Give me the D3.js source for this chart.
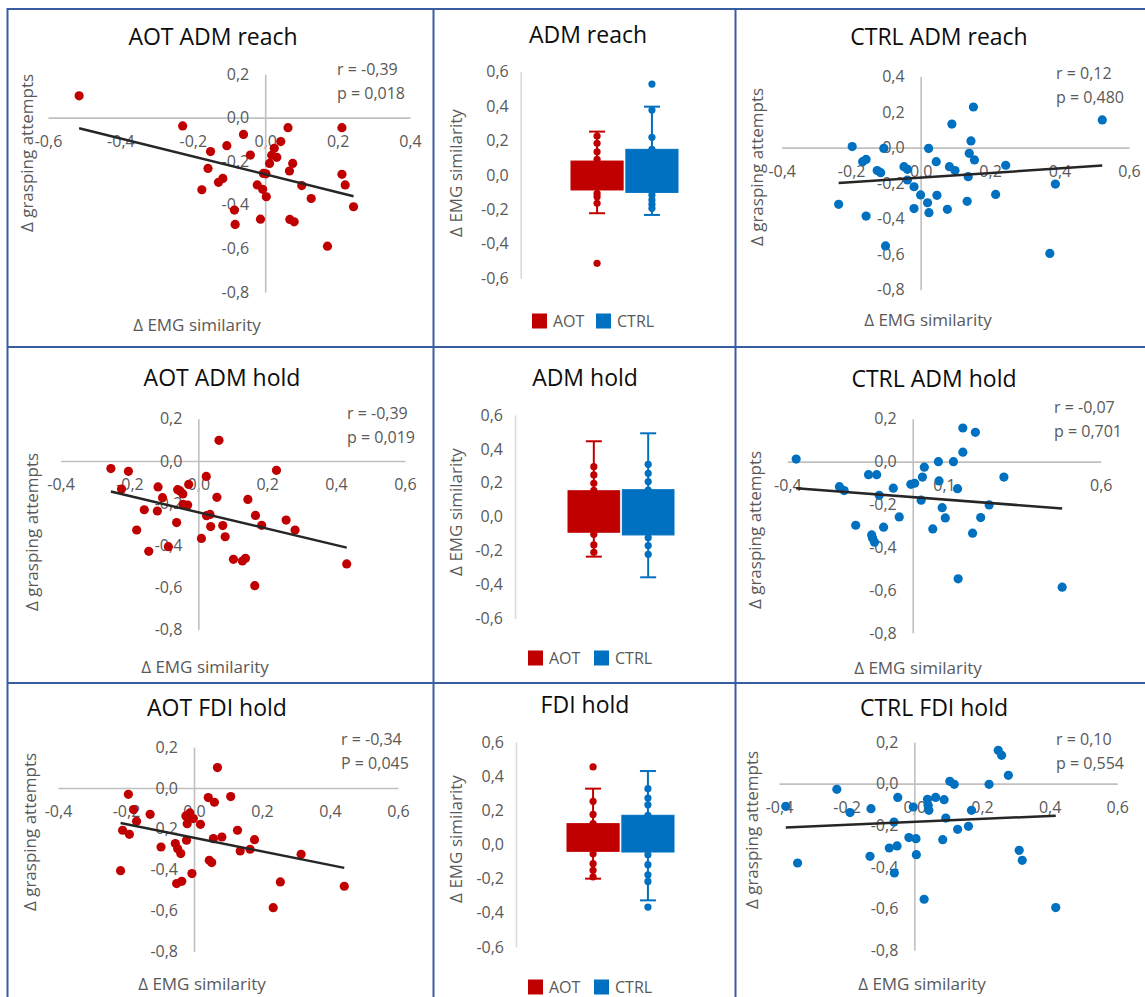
<!DOCTYPE html>
<html>
<meta charset="utf-8">
<style>
  body { margin: 0; background: #fff; }
  svg { display: block; font-family: "Open Sans", sans-serif; }
  .tick text { fill: #595959; font-size: 16px; }
  .axis-title { fill: #595959; font-size: 17px; }
  .title { fill: #0d0d0d; font-size: 23px; }
  .stat { fill: #595959; font-size: 16px; }
  .legend text { fill: #595959; font-size: 16px; }
</style>
<body>
<script src="https://d3js.org/d3.v7.min.js"></script>
<div id="chart"></div>
<script>
// ---- data ----
var groups = ["AOT", "CTRL"];

// scatter: [delta EMG similarity, delta grasping attempts]
var aotAdmReach = [[-0.514,0.10],[-0.228,-0.038],[-0.060,-0.077],[-0.151,-0.156],[-0.106,-0.129],[-0.158,-0.233],
  [-0.117,-0.279],[-0.129,-0.297],[-0.175,-0.331],[-0.041,-0.172],[-0.085,-0.424],[-0.083,-0.490],[-0.013,-0.466],
  [-0.022,-0.309],[-0.007,-0.329],[0.003,-0.363],[-0.005,-0.256],[0.002,-0.258],[0.012,-0.210],[0.018,-0.173],
  [0.032,-0.182],[0.025,-0.141],[0.043,-0.110],[0.063,-0.046],[0.076,-0.210],[0.067,-0.245],[0.068,-0.467],
  [0.080,-0.478],[0.101,-0.312],[0.127,-0.371],[0.212,-0.046],[0.212,-0.260],[0.221,-0.309],[0.244,-0.409],[0.172,-0.590]];
var ctrlAdmReach = [[-0.236,-0.319],[-0.197,0.006],[-0.167,-0.079],[-0.157,-0.066],[-0.125,-0.129],[-0.115,-0.141],
  [-0.157,-0.385],[-0.106,-0.004],[-0.101,-0.553],[-0.048,-0.107],[-0.038,-0.122],[-0.038,-0.182],[-0.019,-0.220],
  [-0.019,-0.343],[0.000,-0.266],[0.023,-0.004],[0.045,-0.079],[0.020,-0.310],[0.024,-0.366],[0.047,-0.268],
  [0.077,-0.347],[0.083,-0.107],[0.099,-0.129],[0.090,0.133],[0.137,-0.163],[0.134,-0.302],[0.140,-0.032],
  [0.145,0.038],[0.155,-0.069],[0.152,0.229],[0.216,-0.263],[0.245,-0.099],[0.388,-0.205],[0.372,-0.595],[0.523,0.156]];
var aotAdmHold = [[-0.254,-0.036],[-0.203,-0.049],[-0.223,-0.133],[-0.179,-0.327],[-0.157,-0.231],[-0.144,-0.428],
  [-0.117,-0.123],[-0.119,-0.237],[-0.104,-0.174],[-0.087,-0.406],[-0.063,-0.292],[-0.060,-0.136],[-0.045,-0.156],
  [-0.053,-0.142],[-0.031,-0.209],[-0.028,-0.111],[-0.044,-0.205],[0.009,-0.367],[0.023,-0.073],[0.024,-0.259],
  [0.034,-0.253],[0.036,-0.311],[0.054,-0.172],[0.060,0.098],[0.071,-0.306],[0.078,-0.359],[0.102,-0.466],
  [0.128,-0.474],[0.137,-0.461],[0.144,-0.182],[0.166,-0.258],[0.184,-0.305],[0.164,-0.591],[0.227,-0.044],
  [0.255,-0.280],[0.281,-0.327],[0.431,-0.488]];
var ctrlAdmHold = [[-0.372,0.012],[-0.234,-0.117],[-0.219,-0.135],[-0.182,-0.297],[-0.141,-0.061],[-0.115,-0.061],
  [-0.107,-0.157],[-0.131,-0.342],[-0.128,-0.358],[-0.122,-0.376],[-0.093,-0.306],[-0.062,-0.124],[-0.043,-0.258],
  [-0.006,-0.106],[0.006,-0.101],[0.031,-0.072],[0.037,-0.026],[0.027,-0.180],[0.064,-0.314],[0.082,0.000],
  [0.084,-0.090],[0.094,-0.215],[0.104,-0.263],[0.130,0.000],[0.143,-0.126],[0.145,-0.547],[0.160,0.157],
  [0.160,0.044],[0.200,0.137],[0.191,-0.334],[0.217,-0.261],[0.244,-0.202],[0.291,-0.072],[0.477,-0.586]];
var aotFdiHold = [[-0.193,-0.031],[-0.178,-0.106],[-0.169,-0.163],[-0.210,-0.207],[-0.190,-0.227],[-0.216,-0.405],
  [-0.129,-0.129],[-0.097,-0.289],[-0.055,-0.272],[-0.048,-0.297],[-0.039,-0.321],[-0.051,-0.468],[-0.036,-0.457],
  [-0.024,-0.137],[-0.012,-0.122],[-0.020,-0.175],[-0.002,-0.150],[-0.022,-0.256],[-0.006,-0.419],[0.019,-0.178],
  [0.042,-0.047],[0.060,-0.070],[0.069,0.100],[0.045,-0.354],[0.052,-0.365],[0.057,-0.248],[0.082,-0.240],
  [0.108,-0.042],[0.128,-0.207],[0.136,-0.308],[0.165,-0.300],[0.178,-0.253],[0.233,-0.586],[0.254,-0.460],
  [0.315,-0.325],[0.442,-0.481]];
var ctrlFdiHold = [[-0.380,-0.109],[-0.345,-0.381],[-0.229,-0.027],[-0.190,-0.139],[-0.128,-0.120],[-0.131,-0.349],
  [-0.060,-0.184],[-0.074,-0.309],[-0.051,-0.299],[-0.059,-0.429],[-0.049,-0.066],[-0.016,-0.259],[0.005,-0.264],
  [-0.003,-0.112],[0.006,-0.341],[0.029,-0.555],[0.039,-0.075],[0.041,-0.104],[0.043,-0.128],[0.063,-0.066],
  [0.088,-0.077],[0.093,-0.165],[0.084,-0.269],[0.105,0.011],[0.118,-0.003],[0.128,-0.219],[0.160,-0.205],
  [0.169,-0.128],[0.221,-0.003],[0.248,0.160],[0.258,0.136],[0.278,0.040],[0.310,-0.320],[0.319,-0.368],[0.418,-0.595]];

var scatterTitles = ["AOT ADM reach", "CTRL ADM reach", "AOT ADM hold", "CTRL ADM hold", "AOT FDI hold", "CTRL FDI hold"];
var rLabels = ["r = -0,39", "r = 0,12", "r = -0,39", "r = -0,07", "r = -0,34", "r = 0,10"];
var pLabels = ["p = 0,018", "p = 0,480", "p = 0,019", "p = 0,701", "P = 0,045", "p = 0,554"];

// box plots: [q1, q3, lower whisker, upper whisker] and visible points
var boxTitles = ["ADM reach", "ADM hold", "FDI hold"];
var admReachBox = { AOT: [-0.087, 0.081, -0.222, 0.252], CTRL: [-0.101, 0.149, -0.232, 0.397] };
var admReachPts = { AOT: [0.226, 0.184, 0.135, 0.091, -0.106, -0.126, -0.164, -0.513],
                    CTRL: [0.528, 0.377, 0.219, 0.149, -0.116, -0.145, -0.170, -0.193] };
var admHoldBox = { AOT: [-0.092, 0.153, -0.236, 0.445], CTRL: [-0.108, 0.159, -0.358, 0.492] };
var admHoldPts = { AOT: [0.295, 0.246, 0.197, 0.155, -0.104, -0.167, -0.210],
                   CTRL: [0.309, 0.256, 0.207, 0.157, -0.124, -0.171, -0.222] };
var fdiHoldBox = { AOT: [-0.040, 0.122, -0.200, 0.327], CTRL: [-0.044, 0.171, -0.327, 0.430] };
var fdiHoldPts = { AOT: [0.454, 0.253, 0.176, 0.122, -0.054, -0.112, -0.151, -0.190],
                   CTRL: [0.327, 0.272, 0.232, 0.171, -0.060, -0.118, -0.177, -0.216, -0.366] };

// tick labels
var xTicksLow = [-0.6, -0.4, -0.2, 0, 0.2, 0.4];
var xTicksHigh = [-0.4, -0.2, 0, 0.2, 0.4, 0.6];
var xTicksWide = [-0.4, 0.1, 0.6];
var yTicksShort = [0.2, 0, -0.2, -0.4, -0.6, -0.8];
var yTicksTall = [0.4, 0.2, 0, -0.2, -0.4, -0.6, -0.8];
var boxTicks = [0.6, 0.4, 0.2, 0, -0.2, -0.4, -0.6];

var colors = { AOT: "#c00000", CTRL: "#0070c0" };

// ---- page ----
var W = 1145, H = 997;
var svg = d3.select("#chart").append("svg").attr("width", W).attr("height", H);
var loc = d3.formatLocale({ decimal: ",", thousands: ".", grouping: [3], currency: ["", ""], minus: "-" });
var fmt = loc.format(".1f");

// panel frame
var frame = svg.append("g").attr("stroke", "#3a5ca0").attr("stroke-width", 2);
[7.5, 433.5, 735.5].forEach(function(x) {
  frame.append("line").attr("x1", x).attr("x2", x).attr("y1", 8).attr("y2", H);
});
[9, 347, 683].forEach(function(y) {
  frame.append("line").attr("x1", 7).attr("x2", W).attr("y1", y).attr("y2", y);
});

function styleAxis(ax, lineColor) {
  ax.attr("font-size", null).attr("font-family", null);
  ax.select(".domain").attr("stroke", lineColor).attr("stroke-width", 1.6);
}

var scatterLayout = [
  { xDomain: [-0.6, 0.4], xRange: [48, 410], yDomain: [0.2, -0.8], yRange: [74, 292], xTicks: xTicksLow, yTicks: yTicksShort,
    title: [213, 37], stat: [337, 69], yTitle: [27, 153], xTitle: [197, 325] },
  { xDomain: [-0.4, 0.6], xRange: [781.7, 1129], yDomain: [0.4, -0.8], yRange: [76.6, 289.8], xTicks: xTicksHigh, yTicks: yTicksTall,
    title: [939, 37], stat: [1056, 73], yTitle: [757, 167], xTitle: [928, 320] },
  { xDomain: [-0.4, 0.6], xRange: [60.6, 404.9], yDomain: [0.2, -0.8], yRange: [418.8, 629.8], xTicks: xTicksHigh, yTicks: yTicksShort,
    title: [222, 378], stat: [347, 413], yTitle: [32, 532], xTitle: [205, 667] },
  { xDomain: [-0.4, 0.6], xRange: [787.4, 1100.7], yDomain: [0.2, -0.8], yRange: [418.8, 633], xTicks: xTicksWide, yTicks: yTicksShort,
    title: [934, 379], stat: [1054, 407], yTitle: [755, 530], xTitle: [918, 668] },
  { xDomain: [-0.4, 0.6], xRange: [58, 398], yDomain: [0.2, -0.8], yRange: [747.1, 951.4], xTicks: xTicksHigh, yTicks: yTicksShort,
    title: [217, 708], stat: [341, 739], yTitle: [30, 832], xTitle: [202, 984] },
  { xDomain: [-0.4, 0.6], xRange: [779, 1117.3], yDomain: [0.2, -0.8], yRange: [742, 950.3], xTicks: xTicksHigh, yTicks: yTicksShort,
    title: [934, 708], stat: [1056, 739], yTitle: [752, 830], xTitle: [922, 984] }
];
var scatterData = [aotAdmReach, ctrlAdmReach, aotAdmHold, ctrlAdmHold, aotFdiHold, ctrlFdiHold];
var scatterGroup = ["AOT", "CTRL", "AOT", "CTRL", "AOT", "CTRL"];

scatterData.forEach(function(pts, i) {
  var L = scatterLayout[i];
  var x = d3.scaleLinear().domain(L.xDomain).range(L.xRange);
  var y = d3.scaleLinear().domain(L.yDomain).range(L.yRange);
  var g = svg.append("g");

  var xa = g.append("g").attr("transform", "translate(0," + y(0) + ")")
    .call(d3.axisBottom(x).tickValues(L.xTicks).tickFormat(fmt).tickSize(0).tickSizeOuter(0).tickPadding(18));
  styleAxis(xa, "#c0c0c0");
  var ya = g.append("g").attr("transform", "translate(" + x(0) + ",0)")
    .call(d3.axisLeft(y).tickValues(L.yTicks).tickFormat(fmt).tickSize(0).tickSizeOuter(0).tickPadding(16));
  styleAxis(ya, "#c0c0c0");

  g.append("text").attr("class", "title").attr("x", L.title[0]).attr("y", L.title[1])
    .attr("dy", "0.35em").attr("text-anchor", "middle").text(scatterTitles[i]);
  g.append("text").attr("class", "stat").attr("x", L.stat[0]).attr("y", L.stat[1]).attr("dy", "0.35em").text(rLabels[i]);
  g.append("text").attr("class", "stat").attr("x", L.stat[0]).attr("y", L.stat[1] + 24).attr("dy", "0.35em").text(pLabels[i]);
  g.append("text").attr("class", "axis-title").attr("text-anchor", "middle").attr("dy", "0.35em")
    .attr("transform", "translate(" + L.yTitle[0] + "," + L.yTitle[1] + ") rotate(-90)")
    .text("\u0394 grasping attempts");
  g.append("text").attr("class", "axis-title").attr("text-anchor", "middle").attr("dy", "0.35em")
    .attr("x", L.xTitle[0]).attr("y", L.xTitle[1]).text("\u0394 EMG similarity");

  g.append("g").selectAll("circle").data(pts).join("circle")
    .attr("cx", function(d) { return x(d[0]); })
    .attr("cy", function(d) { return y(d[1]); })
    .attr("r", 4.6)
    .attr("fill", colors[scatterGroup[i]]);

  // linear trendline over the data range
  var mx = d3.mean(pts, function(d) { return d[0]; });
  var my = d3.mean(pts, function(d) { return d[1]; });
  var slope = d3.sum(pts, function(d) { return (d[0] - mx) * (d[1] - my); }) /
              d3.sum(pts, function(d) { return (d[0] - mx) * (d[0] - mx); });
  var icpt = my - slope * mx;
  var ext = d3.extent(pts, function(d) { return d[0]; });
  g.append("path")
    .attr("d", d3.line()(ext.map(function(v) { return [x(v), y(icpt + slope * v)]; })))
    .attr("stroke", "#262626").attr("stroke-width", 2.5).attr("fill", "none");
});

var boxLayout = [
  { yRange: [71.7, 278.3], axisX: 520.7, band: [571, 678], title: [588, 35], yTitle: [456, 173], legendY: 321, legendX: [532, 596] },
  { yRange: [415, 618.3], axisX: 515, band: [568, 674], title: [585, 378], yTitle: [456, 512], legendY: 658, legendX: [528, 594] },
  { yRange: [742, 947], axisX: 516, band: [567, 674], title: [585, 705], yTitle: [456, 839], legendY: 987, legendX: [528, 594] }
];
var boxStats = [admReachBox, admHoldBox, fdiHoldBox];
var boxPts = [admReachPts, admHoldPts, fdiHoldPts];

boxStats.forEach(function(stats, i) {
  var L = boxLayout[i];
  var y = d3.scaleLinear().domain([0.6, -0.6]).range(L.yRange);
  var x = d3.scaleBand().domain(groups).range(L.band).paddingInner(0.05);
  var g = svg.append("g");

  var ya = g.append("g").attr("transform", "translate(" + L.axisX + ",0)")
    .call(d3.axisLeft(y).tickValues(boxTicks).tickFormat(fmt).tickSize(0).tickSizeOuter(0).tickPadding(12));
  styleAxis(ya, "#d9d9d9");

  g.append("text").attr("class", "title").attr("x", L.title[0]).attr("y", L.title[1])
    .attr("dy", "0.35em").attr("text-anchor", "middle").text(boxTitles[i]);
  g.append("text").attr("class", "axis-title").attr("text-anchor", "middle").attr("dy", "0.35em")
    .attr("transform", "translate(" + L.yTitle[0] + "," + L.yTitle[1] + ") rotate(-90)")
    .text("\u0394 EMG similarity");

  groups.forEach(function(k) {
    var s = stats[k], c = colors[k];
    var cx = x(k) + x.bandwidth() / 2;
    g.append("line").attr("x1", cx).attr("x2", cx).attr("y1", y(s[2])).attr("y2", y(s[3]))
      .attr("stroke", c).attr("stroke-width", 2);
    [s[2], s[3]].forEach(function(v) {
      g.append("line").attr("x1", cx - 8).attr("x2", cx + 8).attr("y1", y(v)).attr("y2", y(v))
        .attr("stroke", c).attr("stroke-width", 2);
    });
    g.append("rect").attr("x", x(k)).attr("width", x.bandwidth())
      .attr("y", y(s[1])).attr("height", y(s[0]) - y(s[1]))
      .attr("fill", c).attr("stroke", c).attr("stroke-width", 1);
    g.append("g").selectAll("circle").data(boxPts[i][k]).join("circle")
      .attr("cx", cx).attr("cy", function(d) { return y(d); }).attr("r", 3.6).attr("fill", c);
  });

  var lg = g.append("g").attr("class", "legend");
  groups.forEach(function(k, j) {
    lg.append("rect").attr("x", L.legendX[j]).attr("y", L.legendY - 7.5).attr("width", 15).attr("height", 15)
      .attr("fill", colors[k]);
    lg.append("text").attr("x", L.legendX[j] + 21).attr("y", L.legendY).attr("dy", "0.35em").text(k);
  });
});
</script>
</body>
</html>
